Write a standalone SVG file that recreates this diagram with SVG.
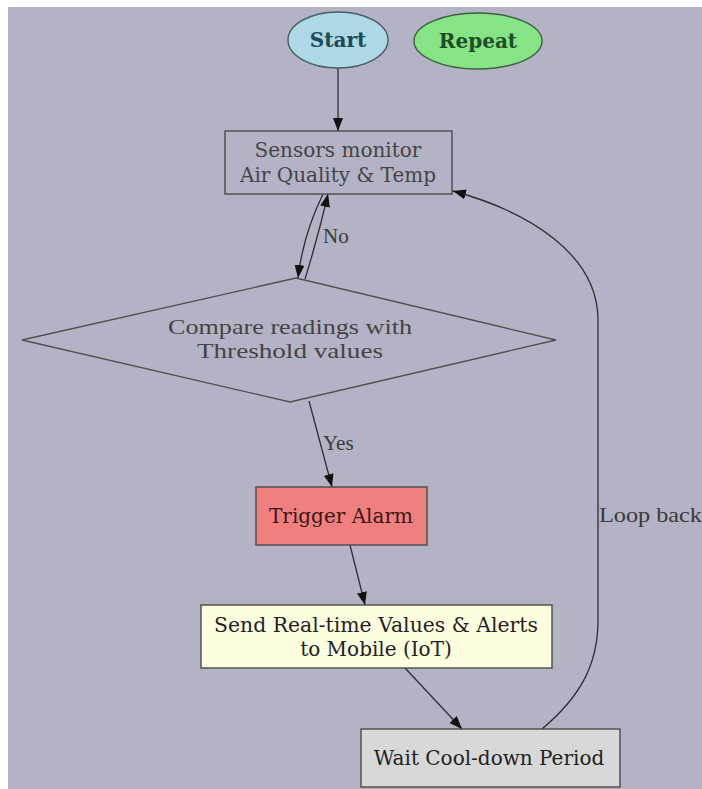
<svg xmlns="http://www.w3.org/2000/svg" width="702" height="789" viewBox="0 0 702 789">
<defs>
<style>
.node-t{font-family:"DejaVu Serif","Liberation Serif",serif;font-size:20px;text-anchor:middle;fill:#222}
.lbl{font-family:"Liberation Serif","Times New Roman",serif;font-size:21px;fill:#3a3a3a}
.edge{fill:none;stroke:#2e2e2e;stroke-width:1.3}
.box{stroke:#4a4a4a;stroke-width:1.4}
</style>
<marker id="ah" markerWidth="14" markerHeight="10" refX="13" refY="5" orient="auto" markerUnits="userSpaceOnUse">
<path d="M0,0 L13,5 L0,10 Z" fill="#111"/>
</marker>
</defs>
<rect x="0" y="0" width="702" height="789" fill="#ffffff"/>
<rect x="8" y="7" width="694" height="782" fill="#b4b3c5"/>

<g id="connectors">
<path class="edge" d="M338,68 L338,131" marker-end="url(#ah)"/>
<path class="edge" d="M323,194 Q303,235 298,278" marker-end="url(#ah)"/>
<path class="edge" d="M305,279 Q318,237 328,194" marker-end="url(#ah)"/>
<path class="edge" d="M309,401 L332,487" marker-end="url(#ah)"/>
<path class="edge" d="M350,545 L365,605" marker-end="url(#ah)"/>
<path class="edge" d="M405,668 L462,729" marker-end="url(#ah)"/>
<path class="edge" d="M542,729 C580,697 598,665 598,620 L598,320 C598,255 530,212 453,191" marker-end="url(#ah)"/>
<text class="lbl" x="323" y="243" font-size="22">No</text>
<text class="lbl" x="323" y="450">Yes</text>
<text class="lbl" x="599" y="522" textLength="103" lengthAdjust="spacingAndGlyphs">Loop back</text>
</g>

<g id="start">
<ellipse cx="338" cy="40" rx="50" ry="28" fill="#add8e6" stroke="#4a5a60" stroke-width="1.4"/>
<text class="node-t" x="338" y="47" style="font-weight:600;fill:#1e4a55" font-size="19">Start</text>
</g>

<g id="repeat">
<ellipse cx="478" cy="41" rx="64" ry="28" fill="#86e486" stroke="#3f5f3f" stroke-width="1.4"/>
<text class="node-t" x="478" y="48" style="font-weight:600;fill:#1d4f26" font-size="19">Repeat</text>
</g>

<g id="sensors">
<rect class="box" x="225" y="131" width="227" height="63" fill="none"/>
<text class="node-t" x="338" y="157" style="fill:#444">Sensors monitor</text>
<text class="node-t" x="338" y="182" style="fill:#444">Air Quality &amp; Temp</text>
</g>

<g id="compare">
<polygon points="22,340 296,278 556,340 290,402" fill="none" stroke="#505050" stroke-width="1.3"/>
<text class="lbl" x="290" y="334" text-anchor="middle" textLength="244" lengthAdjust="spacingAndGlyphs" style="fill:#444">Compare readings with</text>
<text class="lbl" x="290" y="358" text-anchor="middle" textLength="186" lengthAdjust="spacingAndGlyphs" style="fill:#444">Threshold values</text>
</g>

<g id="trigger">
<rect class="box" x="256" y="487" width="171" height="58" fill="#f08080"/>
<text class="node-t" x="341" y="523" style="fill:#3d1515">Trigger Alarm</text>
</g>

<g id="send">
<rect class="box" x="201" y="605" width="351" height="63" fill="#fdfde0"/>
<text class="node-t" x="376" y="632" textLength="324" lengthAdjust="spacingAndGlyphs">Send Real-time Values &amp; Alerts</text>
<text class="node-t" x="376" y="656">to Mobile (IoT)</text>
</g>

<g id="wait">
<rect class="box" x="361" y="729" width="259" height="58" fill="#d8d8d8"/>
<text class="node-t" x="489" y="765">Wait Cool-down Period</text>
</g>
</svg>
